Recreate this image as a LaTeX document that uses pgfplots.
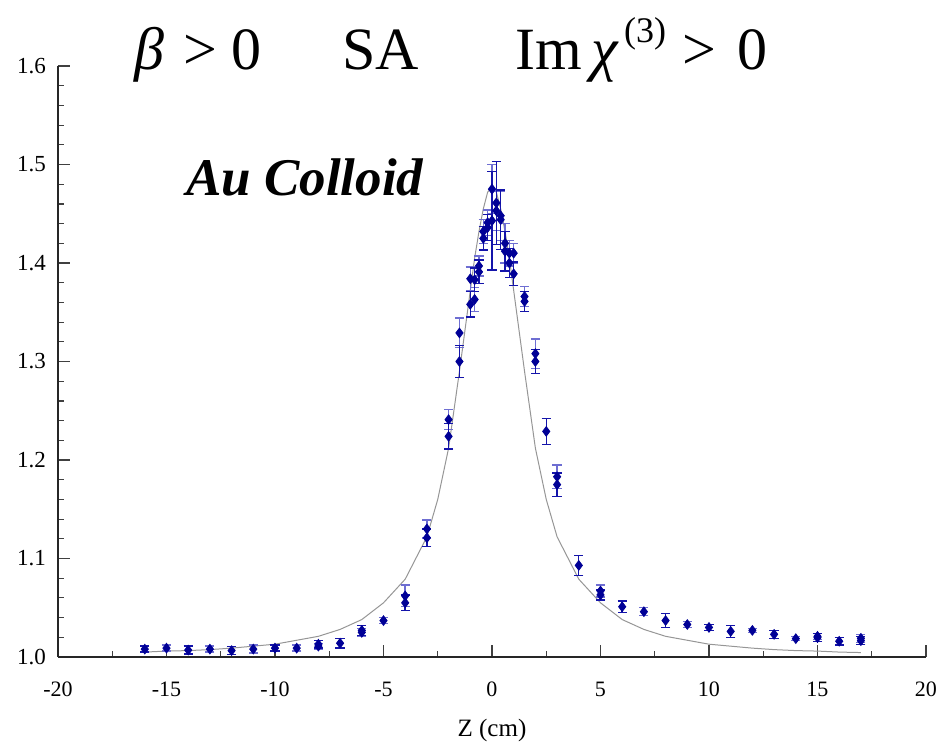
\documentclass[border=0pt]{standalone}
\usepackage{fontspec}
\setmainfont{Liberation Serif}
\usepackage{pgfplots}
\pgfplotsset{compat=1.18}
\usepackage{pgfplotstable}
\definecolor{navy}{RGB}{0,0,150}
\definecolor{ebdark}{RGB}{20,20,170}
\definecolor{eblight}{RGB}{110,110,210}
\definecolor{fitgray}{RGB}{150,150,150}

\pgfplotstableread{
x y e
-16 1.008 0.003
-14 1.007 0.004
-12 1.0065 0.004
-10 1.009 0.003
-8 1.013 0.004
-7 1.014 0.005
-6 1.027 0.005
-4 1.055 0.008
-3 1.121 0.009
-2 1.224 0.013
-1.5 1.300 0.016
-1 1.358 0.013
-0.8 1.383 0.012
-0.6 1.391 0.012
-0.4 1.425 0.012
-0.2 1.436 0.013
0 1.443 0.050
0.2 1.461 0.042
0.4 1.444 0.030
0.6 1.412 0.020
0.8 1.400 0.015
1.0 1.389 0.012
1.5 1.361 0.010
2 1.300 0.012
2.5 1.229 0.013
3 1.175 0.012
4 1.093 0.010
5 1.063 0.005
6 1.051 0.006
8 1.037 0.007
10 1.030 0.003
11 1.026 0.006
13 1.023 0.004
15 1.0196 0.004
16 1.016 0.004
17 1.0166 0.004
}\serA

\pgfplotstableread{
x y e
-15 1.009 0.003
-13 1.008 0.003
-11 1.008 0.004
-9 1.009 0.003
-8 1.011 0.003
-6 1.025 0.004
-5 1.037 0.003
-4 1.062 0.011
-3 1.130 0.009
-2 1.241 0.010
-1.5 1.329 0.015
-1 1.384 0.012
-0.8 1.363 0.012
-0.6 1.397 0.010
-0.4 1.432 0.012
-0.2 1.441 0.013
0 1.475 0.025
0.2 1.453 0.020
0.4 1.448 0.025
0.6 1.420 0.020
0.8 1.410 0.013
1.0 1.410 0.010
1.5 1.366 0.010
2 1.308 0.015
3 1.183 0.012
5 1.067 0.006
7 1.046 0.004
9 1.033 0.003
12 1.027 0.002
14 1.0186 0.002
15 1.021 0.003
17 1.019 0.004
}\serB

\pgfplotstableread{
x y
-16 1.005
-15 1.006
-14 1.0065
-13 1.0075
-12 1.009
-11 1.011
-10 1.013
-9 1.017
-8 1.021
-7 1.028
-6 1.038
-5 1.055
-4 1.079
-3 1.122
-2.5 1.160
-2 1.212
-1.5 1.290
-1 1.372
-0.8 1.405
-0.6 1.432
-0.4 1.455
-0.2 1.472
0 1.477
0.2 1.472
0.4 1.455
0.6 1.432
0.8 1.405
1 1.372
1.5 1.290
2 1.212
2.5 1.160
3 1.122
4 1.079
5 1.055
6 1.038
7 1.028
8 1.021
9 1.017
10 1.013
11 1.011
12 1.009
13 1.0075
14 1.0065
15 1.006
16 1.005
17 1.0045
}\fit

\begin{document}
\begin{tikzpicture}
\path[use as bounding box] (-29pt,-43.5pt) rectangle (440pt,328.5pt);
\begin{axis}[
  at={(0,0)}, anchor=south west,
  scale only axis, width=434pt, height=295.5pt,
  xmin=-20, xmax=20, ymin=1.0, ymax=1.6,
  axis lines=left,
  axis line style={-, black!85, line width=0.6pt},
  tick align=inside,
  xtick={-20,-15,-10,-5,0,5,10,15,20},
  minor x tick num=1,
  ytick={1.0,1.1,1.2,1.3,1.4,1.5,1.6},
  minor y tick num=4,
  major tick length=6pt, minor tick length=3pt,
  tick style={black!75, line width=0.6pt},
  /pgf/number format/assume math mode=true,
  yticklabel style={/pgf/number format/fixed, /pgf/number format/fixed zerofill, /pgf/number format/precision=1, font=\fontsize{11.5}{13}\selectfont, xshift=-2.5pt},
  xticklabel style={font=\fontsize{11}{13}\selectfont, yshift=-9pt},
  xlabel={Z (cm)},
  xlabel style={at={(axis description cs:0.5,0)}, anchor=center, yshift=-36.5pt, font=\fontsize{12.5}{14}\selectfont},
  clip=false,
]
\addplot[fitgray, line width=0.5pt] table[x=x,y=y] {\fit};
\addplot[only marks, mark=diamond*, mark size=2.4pt, color=navy,
  error bars/.cd, y dir=both, y explicit,
  error bar style={eblight, line width=0.7pt},
  error mark options={eblight, rotate=90, mark size=2.3pt, line width=0.7pt}]
  table[x=x, y=y, y error=e] {\serB};
\addplot[only marks, mark=diamond*, mark size=2.4pt, color=navy,
  error bars/.cd, y dir=both, y explicit,
  error bar style={ebdark, line width=0.7pt},
  error mark options={ebdark, rotate=90, mark size=2.3pt, line width=0.7pt}]
  table[x=x, y=y, y error=e] {\serA};
\node[anchor=base, font=\fontsize{30}{30}\selectfont] at (axis cs:-13.55,1.596) {{\itshape β}\hspace{10pt}>\hspace{7pt}0};
\node[anchor=base, font=\fontsize{30}{30}\selectfont] at (axis cs:-5.12,1.596) {SA};
\node[anchor=base, font=\fontsize{30}{30}\selectfont] at (axis cs:6.89,1.596) {Im\hspace{5pt}{\itshape χ}\hspace{3pt}\raisebox{0.45em}{\fontsize{18}{18}\selectfont (3)}\hspace{8pt}>\hspace{11pt}0};
\node[anchor=base, font=\fontsize{26.5}{26.5}\selectfont\bfseries\itshape] at (axis cs:-8.62,1.469) {Au Colloid};
\end{axis}
\end{tikzpicture}
\end{document}
